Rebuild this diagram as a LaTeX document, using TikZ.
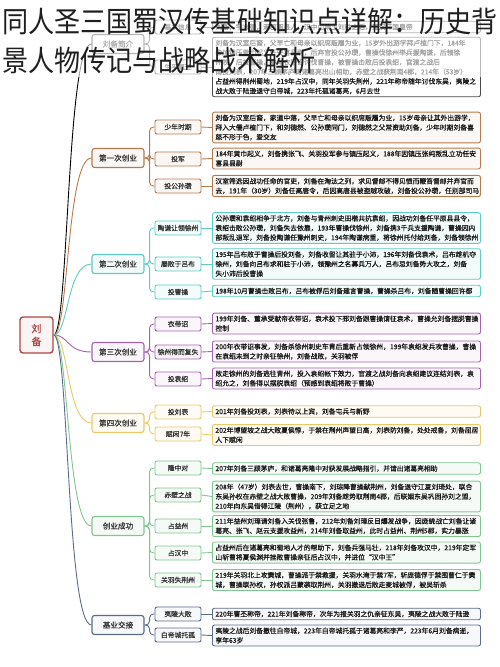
\documentclass[tikz,border=0pt]{standalone}
\usepackage{fontspec}
\newfontfamily\cjk{Noto Sans CJK SC}
\newfontfamily\cjkb[FakeBold=0.6]{Noto Sans CJK SC}
\newfontfamily\titlefont[FakeStretch=0.9]{Noto Sans CJK SC}
\definecolor{cred}{HTML}{B04646}
\definecolor{cgray}{HTML}{4A4A4A}
\definecolor{cbrown}{HTML}{B7794E}
\definecolor{cteal}{HTML}{5FCBC2}
\definecolor{cpurple}{HTML}{A464B2}
\definecolor{cyellow}{HTML}{E6C96A}
\definecolor{cgreen}{HTML}{80C690}
\definecolor{cslate}{HTML}{5C6B8A}

\begin{document}
\begin{tikzpicture}[x=1pt,y=-1pt,
    lvone/.style={draw, rounded corners=2.5pt, line width=1.1pt, minimum width=52pt, minimum height=19pt, inner sep=1pt, text=black!80, font=\cjkb\fontsize{7.6}{9}\selectfont},
    lvtwo/.style={draw, rounded corners=2pt, line width=0.9pt, minimum width=46pt, minimum height=14pt, inner sep=1pt, text=black!80, font=\cjkb\fontsize{6.8}{8}\selectfont},
    txtbox/.style={draw, rounded corners=2pt, line width=0.9pt, anchor=west, text width=262pt, align=left, inner xsep=3pt, inner ysep=2.5pt, text=black!90, font=\cjkb\fontsize{6.8}{9.6}\selectfont},
    gry/.style={draw=cgray, fill=white},
    brn/.style={draw=cbrown, fill=cbrown!6},
    tea/.style={draw=cteal, fill=cteal!7},
    pur/.style={draw=cpurple, fill=cpurple!6},
    yel/.style={draw=cyellow, fill=cyellow!8},
    grn/.style={draw=cgreen, fill=cgreen!8},
    sla/.style={draw=cslate, fill=cslate!5},
    link/.style={line width=0.9pt, rounded corners=4pt}]
    \useasboundingbox (0,0) rectangle (500,667);

    % root
    \node[draw=cred, fill=cred!6, line width=1.4pt, rounded corners=3pt, minimum width=33pt, minimum height=36pt, align=center, text=cred, font=\cjkb\fontsize{10}{13}\selectfont] (liubei) at (36.5,335) {刘\\备};

    % first level
    \node[lvone, gry] (jianjie) at (118,44) {刘备简介};
    \node[lvone, brn] (cyA) at (118,158) {第一次创业};
    \node[lvone, tea] (cyB) at (118,264) {第二次创业};
    \node[lvone, pur] (cyC) at (118,352) {第三次创业};
    \node[lvone, yel] (cyD) at (118,423) {第四次创业};
    \node[lvone, grn] (cyE) at (118,526) {创业成功};
    \node[lvone, sla] (cyF) at (118,625) {基业交接};

    % second level
    \node[lvtwo, gry] (jbxx) at (178,27) {基本信息};
    \node[lvtwo, gry] (spgs) at (178,67) {生平概述};
    \node[lvtwo, brn] (snsq) at (178,127) {少年时期};
    \node[lvtwo, brn] (toujun) at (178,159) {投军};
    \node[lvtwo, brn] (tgsz) at (178,186) {投公孙瓒};
    \node[lvtwo, tea] (tqrl) at (178,228) {陶谦让领徐州};
    \node[lvtwo, tea] (lblb) at (178,264) {屡败于吕布};
    \node[lvtwo, tea] (tcc) at (178,292) {投曹操};
    \node[lvtwo, pur] (ydz) at (178,324) {衣带诏};
    \node[lvtwo, pur] (xzdf) at (178,352) {徐州得而复失};
    \node[lvtwo, pur] (tys) at (178,379) {投袁绍};
    \node[lvtwo, yel] (tlb) at (178,412) {投刘表};
    \node[lvtwo, yel] (fxqn) at (178,434) {赋闲7年};
    \node[lvtwo, grn] (lzd) at (178,468) {隆中对};
    \node[lvtwo, grn] (cbzz) at (178,495) {赤壁之战};
    \node[lvtwo, grn] (zyz) at (178,526) {占益州};
    \node[lvtwo, grn] (zhz) at (178,553) {占汉中};
    \node[lvtwo, grn] (gysj) at (178,580) {关羽失荆州};
    \node[lvtwo, sla] (yldb) at (178,614) {夷陵大败};
    \node[lvtwo, sla] (bdtg) at (178,635) {白帝城托孤};

    % text boxes
    \node[txtbox, gry] (jbxxT) at (212,27) {刘备，字玄德，涿郡涿县人，汉中山靖王刘胜之后，蜀汉开国皇帝};
    \node[txtbox, gry] (spgsT) at (212,67) {刘备为汉室后裔，父早亡和母亲以织席贩履为业，15岁外出游学拜卢植门下，184年\\参加镇压黄巾起义任安喜县尉，后弃官投公孙瓒，曹操伐徐州举兵援陶谦，后领徐\\州牧，后投曹操，参与衣带诏讨伐曹操，被曹操击败后投袁绍，官渡之战后\\南投刘表，207年三顾茅庐请诸葛亮出山相助，赤壁之战获荆南4郡，214年（53岁）\\占益州得荆州蜀地，219年占汉中，同年关羽失荆州，221年称帝随年讨伐东吴，夷陵之\\战大败于陆逊退守白帝城，223年托孤诸葛亮，6月去世};
    \node[txtbox, brn] (snsqT) at (212,127.5) {刘备为汉室后裔，家道中落，父早亡和母亲以织席贩履为业，15岁母亲让其外出游学，\\拜入大儒卢植门下，和刘德然、公孙瓒同门，刘德然之父常资助刘备，少年时期刘备喜\\怒不形于色，爱交友};
    \node[txtbox, brn] (toujunT) at (212,158.5) {184年黄巾起义，刘备携张飞、关羽投军参与镇压起义，188年因镇压张纯叛乱立功任安\\喜县县尉};
    \node[txtbox, brn] (tgszT) at (212,186) {汉室筛选因战功任命的官吏，刘备在淘汰之列，求见督邮不得见愤而鞭笞督邮并弃官而\\去，191年（30岁）刘备任高唐令，后因高唐县被盗贼攻破，刘备投公孙瓒，任别部司马};
    \node[txtbox, tea] (tqrlT) at (212,228) {公孙瓒和袁绍相争于北方，刘备与青州刺史田楷共抗袁绍，因战功刘备任平原县县令，\\袁绍击败公孙瓒，刘备失去依靠，193年曹操伐徐州，刘备携3千兵支援陶谦，曹操因内\\部叛乱退军，刘备投陶谦任豫州刺史，194年陶谦病重，将徐州托付给刘备，刘备领徐州};
    \node[txtbox, tea] (lblbT) at (212,264) {195年吕布败于曹操后投刘备，刘备收留让其驻于小沛，196年刘备伐袁术，吕布趁机夺\\徐州，刘备向吕布求和驻于小沛，领豫州之名募兵万人，吕布忌刘备势大攻之，刘备\\失小沛后投曹操};
    \node[txtbox, tea] (tccT) at (212,291) {198年10月曹操击败吕布，吕布被俘后刘备建言曹操，曹操杀吕布，刘备随曹操回许都};
    \node[txtbox, pur] (ydzT) at (212,323.5) {199年刘备、董承受献帝衣带诏，袁术投下邳刘备跟曹操请征袁术，曹操允刘备摆脱曹操\\控制};
    \node[txtbox, pur] (xzdfT) at (212,351.5) {200年衣带诏事发，刘备杀徐州刺史车胄后重新占领徐州，199年袁绍发兵攻曹操，曹操\\在袁绍未到之时亲征徐州，刘备战败，关羽被俘};
    \node[txtbox, pur] (tysT) at (212,378.5) {败走徐州的刘备逃往青州，投入袁绍帐下效力，官渡之战刘备向袁绍建议连结刘表，袁\\绍允之，刘备得以摆脱袁绍（预感到袁绍将败于曹操）};
    \node[txtbox, yel] (tlbT) at (212,411.5) {201年刘备投刘表，刘表待以上宾，刘备屯兵与新野};
    \node[txtbox, yel] (fxqnT) at (212,435) {202年博望坡之战大败夏侯惇，于禁在荆州声望日高，刘表防刘备，处处戒备，刘备屈居\\人下赋闲};
    \node[txtbox, grn] (lzdT) at (212,468.5) {207年刘备三顾茅庐，和诸葛亮隆中对获发展战略指引，并请出诸葛亮相助};
    \node[txtbox, grn] (cbzzT) at (212,496.5) {208年（47岁）刘表去世，曹操南下，刘琮降曹操献荆州，刘备退守江夏刘琦处，联合\\东吴孙权在赤壁之战大败曹操，209年刘备趁势取荆南4郡，后联姻东吴巩固孙刘之盟，\\210年向东吴借得江陵（荆州），获立足之地};
    \node[txtbox, grn] (zyzT) at (212,526) {211年益州刘璋请刘备入关伐张鲁，212年刘备刘璋反目爆发战争，因庞统战亡刘备让诸\\葛亮、张飞、赵云支援攻益州，214年刘备取益州，此时占益州、荆州5郡，实力暴涨};
    \node[txtbox, grn] (zhzT) at (212,552.5) {占益州后在诸葛亮和蜀地人才的帮助下，刘备兵强马壮，218年刘备攻汉中，219年定军\\山斩曹将夏侯渊并挫败曹操亲征后占汉中，并进位“汉中王”};
    \node[txtbox, grn] (gysjT) at (212,580) {219年关羽北上攻樊城，曹操派于禁救援，关羽水淹于禁7军，斩庞德俘于禁围曹仁于樊\\城，曹操联孙权，孙权派吕蒙袭取荆州，关羽撤退后败走麦城被俘，被吴斩杀};
    \node[txtbox, sla] (yldbT) at (212,614) {220年曹丕称帝，221年刘备称帝，次年为报关羽之仇亲征东吴，夷陵之战大败于陆逊};
    \node[txtbox, sla] (bdtgT) at (212,635.5) {夷陵之战后刘备撤往白帝城，223年白帝城托孤于诸葛亮和李严，223年6月刘备病逝，\\享年63岁};

    % root to first level
    \draw[link, black] (liubei.east) .. controls +(15,0) and +(-25,0) .. (jianjie.west);
    \draw[link, cbrown] (liubei.east) .. controls +(15,0) and +(-25,0) .. (cyA.west);
    \draw[link, cteal] (liubei.east) .. controls +(15,0) and +(-25,0) .. (cyB.west);
    \draw[link, cpurple] (liubei.east) .. controls +(15,0) and +(-25,0) .. (cyC.west);
    \draw[link, cyellow] (liubei.east) .. controls +(15,0) and +(-25,0) .. (cyD.west);
    \draw[link, cgreen] (liubei.east) .. controls +(15,0) and +(-25,0) .. (cyE.west);
    \draw[link, cslate] (liubei.east) .. controls +(15,0) and +(-25,0) .. (cyF.west);

    % first level to second level
    \foreach \p/\c/\col in {jianjie/jbxx/cgray, jianjie/spgs/cgray,
        cyA/snsq/cbrown, cyA/toujun/cbrown, cyA/tgsz/cbrown,
        cyB/tqrl/cteal, cyB/lblb/cteal, cyB/tcc/cteal,
        cyC/ydz/cpurple, cyC/xzdf/cpurple, cyC/tys/cpurple,
        cyD/tlb/cyellow, cyD/fxqn/cyellow,
        cyE/lzd/cgreen, cyE/cbzz/cgreen, cyE/zyz/cgreen, cyE/zhz/cgreen, cyE/gysj/cgreen,
        cyF/yldb/cslate, cyF/bdtg/cslate}
        \draw[link, \col] (\p.east) -- ++(5,0) |- (\c.west);

    % second level to text boxes
    \foreach \c/\col in {jbxx/cgray, spgs/cgray, snsq/cbrown, toujun/cbrown, tgsz/cbrown,
        tqrl/cteal, lblb/cteal, tcc/cteal, ydz/cpurple, xzdf/cpurple, tys/cpurple,
        tlb/cyellow, fxqn/cyellow, lzd/cgreen, cbzz/cgreen, zyz/cgreen, zhz/cgreen,
        gysj/cgreen, yldb/cslate, bdtg/cslate}
        \draw[link, \col] (\c.east) -- (\c T.west);

    % faded top and title
    \fill[white, opacity=0.6] (0,0) rectangle (500,77);
    \node[anchor=west, inner sep=0, text=black!88, font=\titlefont\fontsize{29}{30}\selectfont] (titleA) at (2,21) {同人圣三国蜀汉传基础知识点详解：历史背};
    \node[anchor=west, inner sep=0, text=black!88, font=\titlefont\fontsize{29}{30}\selectfont] (titleB) at (2,60) {景人物传记与战略战术解析};
\end{tikzpicture}
\end{document}
